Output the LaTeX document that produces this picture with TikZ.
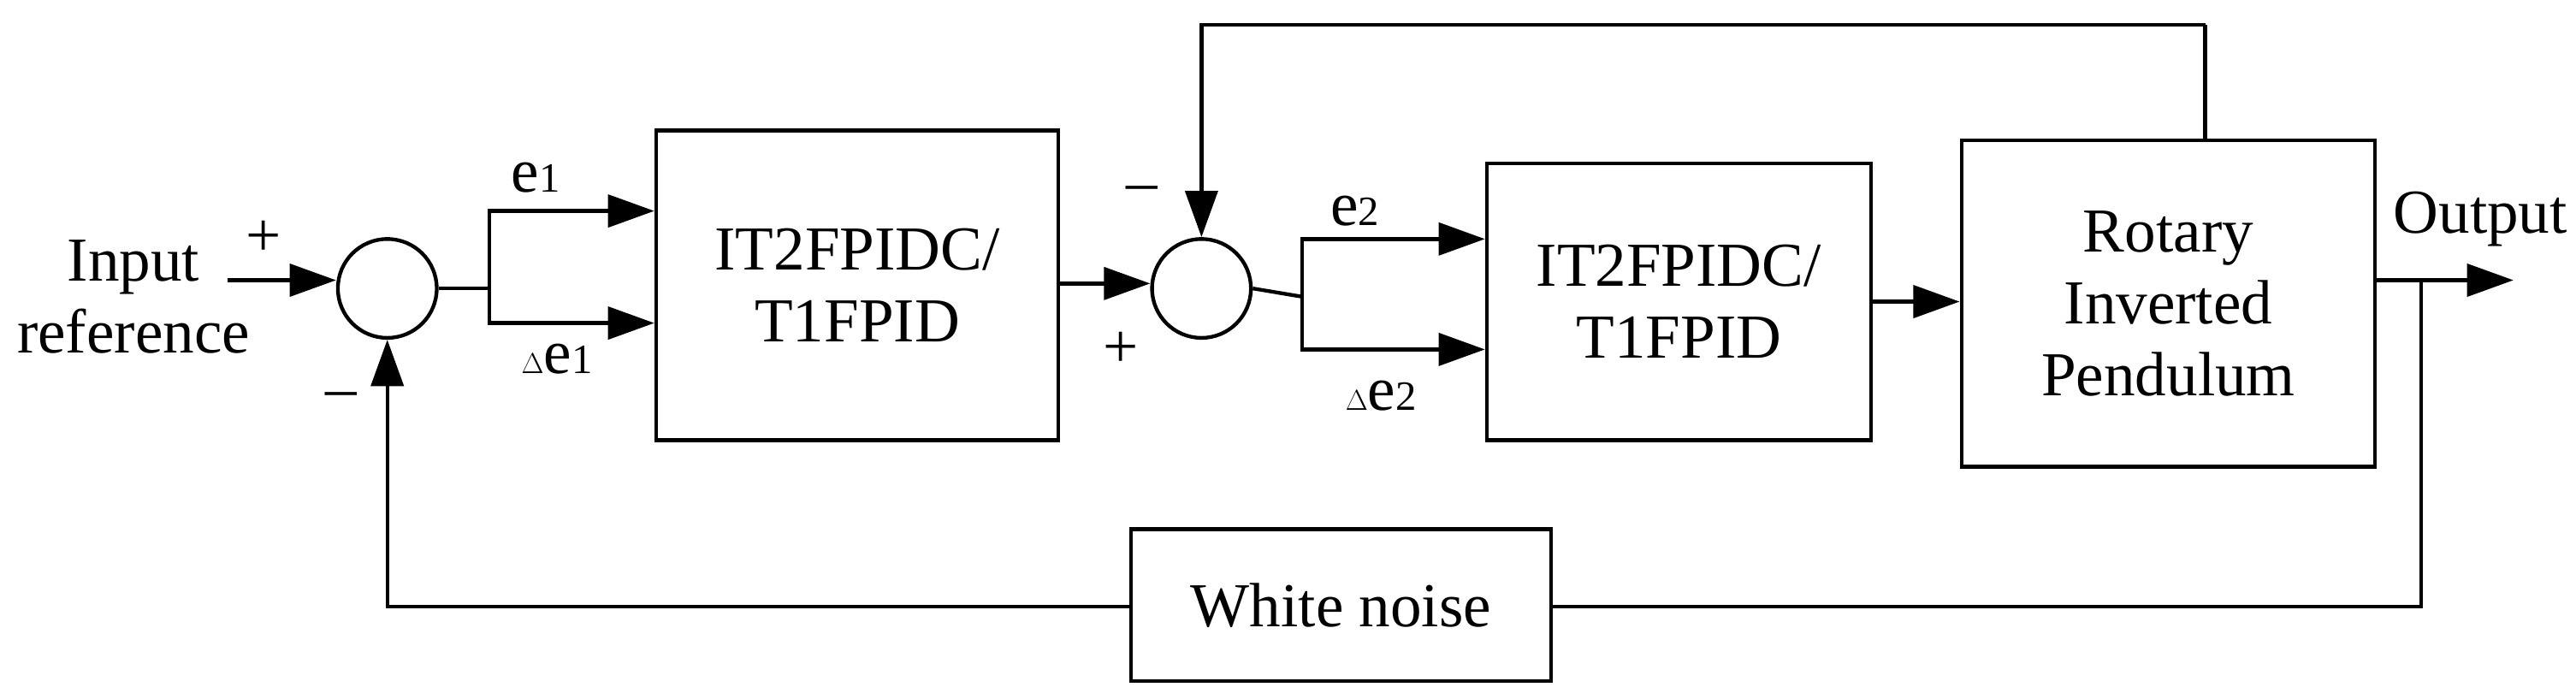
\documentclass[tikz,border=0pt]{standalone}
\usepackage{fontspec}
\setmainfont{Liberation Serif}
\usetikzlibrary{arrows.meta}
\begin{document}
\begin{tikzpicture}[x=0.05cm,y=-0.05cm,line width=3.2pt,
  blk/.style={draw,rectangle,anchor=north west,inner sep=0pt},
  sum/.style={draw,circle,minimum size=60*0.05cm,inner sep=0pt},
  arr/.style={-{Triangle[length=40pt,width=28pt]}},
  lab/.style={font=\fontsize{54}{62}\selectfont,align=center},
  sm/.style={font=\fontsize{36}{40}\selectfont}]
\useasboundingbox (0,0) rectangle (1563,424);
\node[sum] (s1) at (235,175) {};
\node[sum] (s2) at (729,175) {};
\node[blk,minimum width=244*0.05cm,minimum height=188*0.05cm] (b1) at (397,78) {};
\node[lab] at (b1.center) {IT2FPIDC/\\T1FPID};
\node[blk,minimum width=233*0.05cm,minimum height=168*0.05cm] (b2) at (901,98) {};
\node[lab] at (b2.center) {IT2FPIDC/\\T1FPID};
\node[blk,minimum width=251*0.05cm,minimum height=198*0.05cm] (b3) at (1189,84) {};
\node[lab] at (b3.center) {Rotary\\Inverted\\Pendulum};
\node[blk,minimum width=255*0.05cm,minimum height=92*0.05cm] (wn) at (685,320) {};
\node[lab] at (wn.center) {White noise};
% input
\node[lab,anchor=east] (in) at (155,180) {Input\\reference};
\draw[arr] (138,170) coordinate (i0) -- (s1.west|-i0);
% branch 1
\coordinate (j1) at (297,175);
\draw (s1.east) -- (j1);
\draw[arr] (j1) |- (397,128) coordinate (e1t);
\draw[arr] (j1) |- (397,196) coordinate (d1t);
\draw[arr] (b1.east|-0,172) coordinate (o1) -- (s2.west|-o1);
% branch 2
\coordinate (j2) at (790,180);
\draw (s2.east) -- (j2);
\draw[arr] (j2) |- (901,145) coordinate (e2t);
\draw[arr] (j2) |- (901,212) coordinate (d2t);
\draw[arr] (b2.east|-0,183) coordinate (o2) -- (b3.west|-o2);
% top feedback
\coordinate (t1) at (1338,15);
\draw (b3.north-|t1) -- (t1);
\draw[arr] (t1) -| (s2.north);
% output
\coordinate (tap) at (1469,170);
\coordinate (outp) at (1525,170);
\draw[arr] (b3.east|-tap) -- (outp);
\draw (tap) |- (wn.east|-0,368);
\coordinate (bl) at (232,368);
\draw[arr] (wn.west|-bl) -| (s1.south);
% labels
\node[lab] at (160,145) {+};
\node[lab] at (207,243) {\textendash};
\node[lab] at (693,118) {\textendash};
\node[lab] at (680,212) {+};
\node[lab] at (325,108) {e{\fontsize{36}{40}\selectfont 1}};
\node[lab] at (338,218) {$\Delta$e{\fontsize{36}{40}\selectfont 1}};
\node[lab] at (822,128) {e{\fontsize{36}{40}\selectfont 2}};
\node[lab] at (838,240) {$\Delta$e{\fontsize{36}{40}\selectfont 2}};
\node[lab] at (1505,133) {Output};
\end{tikzpicture}
\end{document}
